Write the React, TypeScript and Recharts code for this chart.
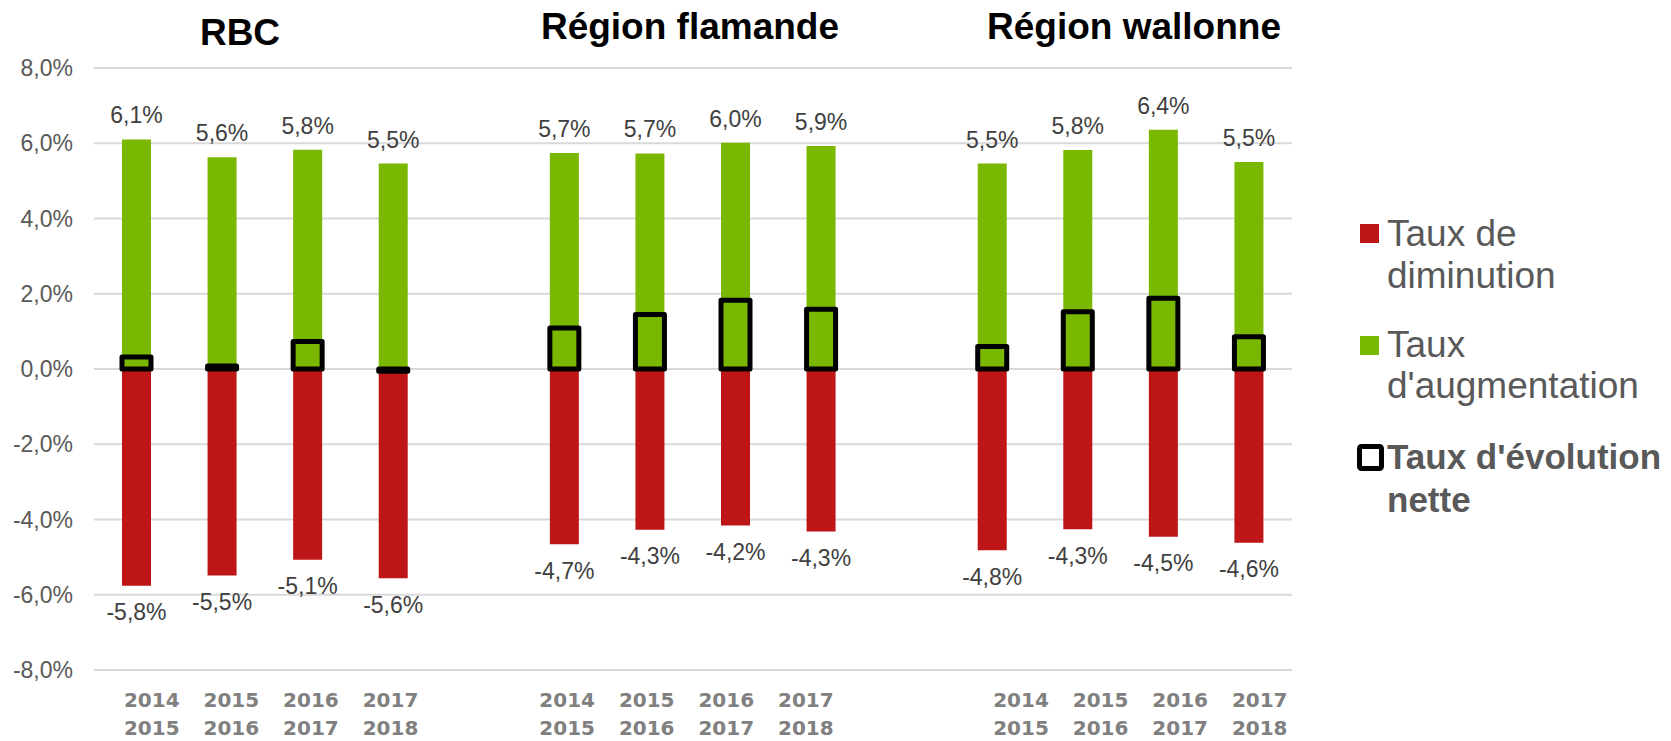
import { BarChart, Bar, XAxis, YAxis, CartesianGrid, LabelList } from "recharts";

const regions = ["RBC", "Région flamande", "Région wallonne"];
const periodStart = ["2014", "2015", "2016", "2017"];
const periodEnd = ["2015", "2016", "2017", "2018"];
const yTicks = [-8, -6, -4, -2, 0, 2, 4, 6, 8];

const increaseRBC = [6.1, 5.63, 5.83, 5.46];
const decreaseRBC = [-5.76, -5.49, -5.07, -5.56];
const netRBC = [0.32, 0.08, 0.73, -0.06];

const increaseFlandre = [5.74, 5.73, 6.01, 5.93];
const decreaseFlandre = [-4.66, -4.27, -4.16, -4.32];
const netFlandre = [1.09, 1.45, 1.83, 1.59];

const increaseWallonie = [5.46, 5.82, 6.36, 5.5];
const decreaseWallonie = [-4.82, -4.26, -4.46, -4.62];
const netWallonie = [0.6, 1.52, 1.88, 0.86];

const GREEN = "#7AB800";
const RED = "#BE1616";
const FONT = "'Liberation Sans', Arial, sans-serif";

type Row = {
  key: string;
  group: number;
  slot: number;
  start?: string;
  end?: string;
  increase?: number | null;
  decrease?: number | null;
  net?: number | null;
};

const series = [
  [increaseRBC, decreaseRBC, netRBC],
  [increaseFlandre, decreaseFlandre, netFlandre],
  [increaseWallonie, decreaseWallonie, netWallonie],
];

const rows: Row[] = [];
series.forEach(([inc, dec, net], g) => {
  if (g > 0) rows.push({ key: `gap-${g}`, group: g, slot: -1, increase: null, decrease: null, net: null });
  periodStart.forEach((s, j) => {
    rows.push({
      key: `${regions[g]}-${j}`,
      group: g,
      slot: j,
      start: s,
      end: periodEnd[j],
      increase: inc[j],
      decrease: dec[j],
      net: net[j],
    });
  });
});

const fmt = (v: number) => `${v.toFixed(1).replace(".", ",")}%`;

// the category labels in the source sit a bit off the bars
const tickShift = [6, -6.5, 19.5];

function PeriodTick(props: any) {
  const { x, y, payload } = props;
  const row = rows.find((r) => r.key === payload?.value);
  if (!row || !row.start) return null;
  const dx = tickShift[row.group] - (row.slot - 1.5) * 6;
  const style = { fontFamily: "'DejaVu Sans', sans-serif", fontWeight: 700, fontSize: 20, fill: "#808080" };
  return (
    <g>
      <text x={x + dx} y={y + 37} textAnchor="middle" style={style}>
        {row.start}
      </text>
      <text x={x + dx} y={y + 65} textAnchor="middle" style={style}>
        {row.end}
      </text>
    </g>
  );
}

function ValueLabel(props: any) {
  const vb = props.viewBox ?? props;
  const { x, y, width, height } = vb;
  const value = props.value;
  if (value == null || x == null) return null;
  const top = Math.min(y, y + height);
  const bottom = Math.max(y, y + height);
  const cx = x + width / 2;
  const ty = value >= 0 ? top - 16 : bottom + 34.5;
  return (
    <text x={cx} y={ty} textAnchor="middle" style={{ fontFamily: FONT, fontSize: 23, fill: "#404040" }}>
      {fmt(value)}
    </text>
  );
}

export default function App() {
  return (
    <div style={{ position: "relative", width: 1671, height: 741, background: "#fff" }}>
      <style>{`body{margin:0}`}</style>
      <BarChart
        width={1671}
        height={741}
        data={rows}
        margin={{ top: 68, right: 379, left: 0, bottom: 0 }}
        barSize={29}
        barGap={-29}
      >
        <CartesianGrid vertical={false} stroke="#d9d9d9" strokeWidth={2} />
        <XAxis
          dataKey="key"
          interval={0}
          height={71}
          axisLine={false}
          tickLine={false}
          tickSize={0}
          tickMargin={0}
          tick={<PeriodTick />}
        />
        <YAxis
          domain={[-8, 8]}
          ticks={yTicks}
          width={94}
          axisLine={false}
          tickLine={false}
          tickSize={0}
          tickMargin={21}
          tickFormatter={fmt}
          tick={{ fontFamily: FONT, fontSize: 23, fill: "#595959" }}
        />
        <Bar dataKey="decrease" fill={RED} isAnimationActive={false}>
          <LabelList dataKey="decrease" content={<ValueLabel />} />
        </Bar>
        <Bar dataKey="increase" fill={GREEN} isAnimationActive={false}>
          <LabelList dataKey="increase" content={<ValueLabel />} />
        </Bar>
        <Bar
          dataKey="net"
          fill="none"
          stroke="#000"
          strokeWidth={5}
          strokeLinejoin="round"
          isAnimationActive={false}
        />
      </BarChart>
      <svg
        width={1671}
        height={741}
        style={{ position: "absolute", left: 0, top: 0, pointerEvents: "none" }}
      >
        <g style={{ fontFamily: FONT, fontWeight: 700, fontSize: 37, fill: "#000" }}>
          <text x={240} y={45} textAnchor="middle">{regions[0]}</text>
          <text x={690} y={39} textAnchor="middle">{regions[1]}</text>
          <text x={1134} y={39} textAnchor="middle">{regions[2]}</text>
        </g>
        <rect x={1360} y={224} width={19} height={19} fill={RED} />
        <rect x={1360} y={336} width={19} height={19} fill={GREEN} />
        <rect x={1359.5} y={446.5} width={22} height={22} fill="#fff" stroke="#000" strokeWidth={5} rx={2} />
        <g style={{ fontFamily: FONT, fontSize: 37, fill: "#595959" }}>
          <text x={1387} y={246}>Taux de</text>
          <text x={1387} y={288}>diminution</text>
          <text x={1387} y={357}>Taux</text>
          <text x={1387} y={398}>d'augmentation</text>
        </g>
        <g style={{ fontFamily: FONT, fontSize: 35, fontWeight: 700, fill: "#595959" }}>
          <text x={1387} y={469}>Taux d'évolution</text>
          <text x={1387} y={512}>nette</text>
        </g>
      </svg>
    </div>
  );
}
